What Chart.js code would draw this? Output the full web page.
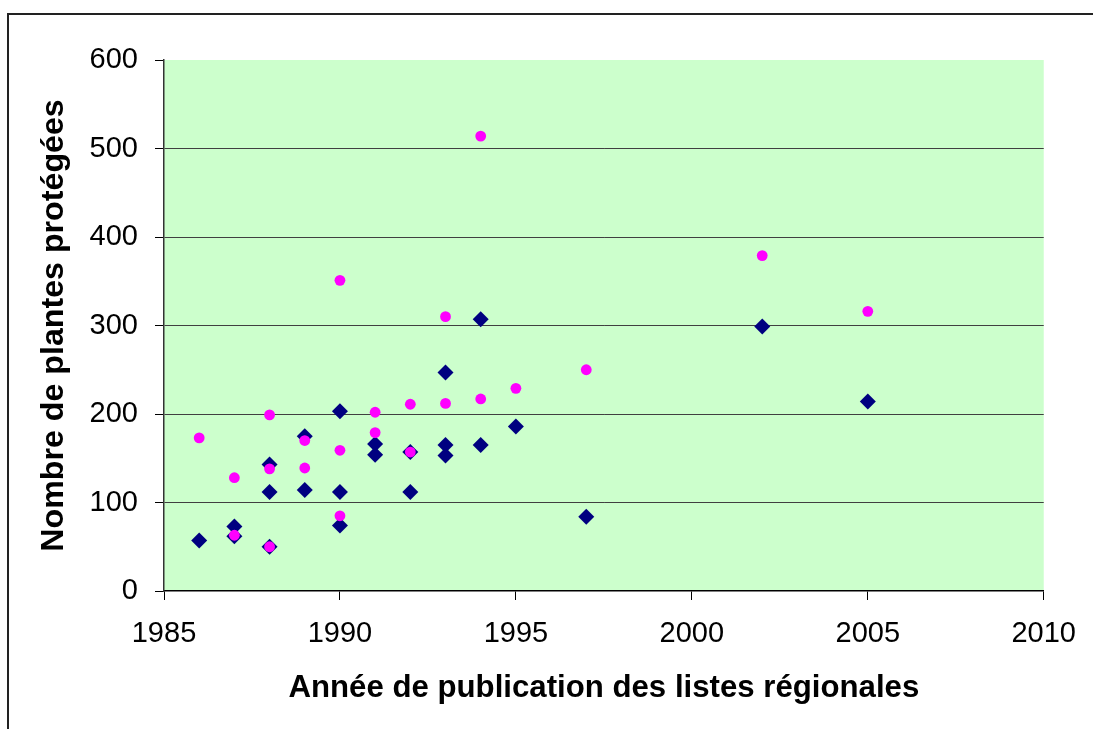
<!DOCTYPE html>
<html lang="fr">
<head>
<meta charset="utf-8">
<title>Plantes protégées par liste régionale</title>
<script src="https://cdn.jsdelivr.net/npm/chart.js@4/dist/chart.umd.min.js"></script>
<style>
  html, body { margin: 0; padding: 0; background: #fff; overflow: hidden; }
  #wrap { position: relative; width: 1093px; height: 729px; }
  #frame {
    position: absolute; left: 7px; top: 13px; width: 1200px; height: 800px;
    border-left: 2px solid #222; border-top: 2px solid #222; pointer-events: none;
  }
</style>
</head>
<body>
<div id="wrap">
  <canvas id="scatterChart" width="1093" height="729"></canvas>
  <div id="frame"></div>
</div>
<script>
// navy diamonds
const yearsA = [1986, 1987, 1987, 1988, 1988, 1988, 1989, 1989, 1990, 1990, 1990, 1991,
  1991, 1992, 1992, 1993, 1993, 1993, 1994, 1994, 1995, 1997, 2002, 2005];
const valuesA = [57, 73, 62, 143, 112, 50, 175, 114, 203, 112, 74, 166,
  154, 157, 112, 247, 165, 153, 307, 165, 186, 84, 299, 214];

// pink dots
const yearsB = [1986, 1987, 1987, 1988, 1988, 1988, 1989, 1989, 1990, 1990, 1990, 1991,
  1991, 1992, 1992, 1993, 1993, 1994, 1994, 1995, 1997, 2002, 2005];
const valuesB = [173, 128, 63, 199, 138, 50, 170, 139, 351, 159, 85, 202,
  179, 211, 157, 310, 212, 514, 217, 229, 250, 379, 316];

const xTitle = "Année de publication des listes régionales";
const yTitle = "Nombre de plantes protégées";

function toPoints(xs, ys) {
  return xs.map((x, i) => ({ x, y: ys[i] }));
}

const plotBackground = {
  id: "plotBackground",
  beforeDraw(chart) {
    const { ctx, chartArea: a } = chart;
    ctx.save();
    ctx.fillStyle = "#ccffcc";
    ctx.fillRect(a.left, a.top, a.right - a.left, a.bottom - a.top);
    ctx.restore();
  },
};

Chart.defaults.font.family = "Arial, 'Liberation Sans', Helvetica, sans-serif";
Chart.defaults.color = "#000";

new Chart(document.querySelector("#scatterChart"), {
  type: "scatter",
  data: {
    datasets: [
      {
        label: "B",
        data: toPoints(yearsB, valuesB),
        pointStyle: "circle",
        pointRadius: 5.4,
        pointHoverRadius: 5.4,
        pointBorderWidth: 0,
        backgroundColor: "#ff00ff",
        borderColor: "#ff00ff",
      },
      {
        label: "A",
        data: toPoints(yearsA, valuesA),
        pointStyle: "rectRot",
        pointRadius: 8,
        pointHoverRadius: 8,
        pointBorderWidth: 0,
        backgroundColor: "#000080",
        borderColor: "#000080",
      },
    ],
  },
  options: {
    responsive: false,
    animation: false,
    events: [],
    layout: { padding: { left: 0, right: 44, top: 60, bottom: 0 } },
    plugins: { legend: { display: false }, tooltip: { enabled: false } },
    scales: {
      x: {
        type: "linear",
        min: 1985,
        max: 2010,
        afterFit: (scale) => { scale.height = 138; },
        ticks: {
          stepSize: 5,
          padding: 17,
          font: { size: 29 },
          color: "#000",
          maxRotation: 0,
          callback: (v) => String(v),
        },
        grid: { drawOnChartArea: false, tickLength: 9, tickColor: "#000", tickWidth: 1 },
        border: { display: true, color: "#000", width: 1.5 },
        title: {
          display: true,
          text: xTitle,
          font: { size: 31.2, weight: "bold" },
          color: "#000",
          padding: { top: 0, bottom: 22 },
        },
      },
      y: {
        min: 0,
        max: 600,
        afterFit: (scale) => { scale.width = 164; },
        ticks: {
          stepSize: 100,
          padding: 17,
          font: { size: 29 },
          color: "#000",
          callback: (v) => String(v),
        },
        grid: {
          color: (ctx) => (ctx.tick && (ctx.tick.value === 600 || ctx.tick.value === 0) ? "rgba(0,0,0,0)" : "#404040"),
          lineWidth: 1,
          tickLength: 9,
          tickColor: "#000",
          tickWidth: 1,
        },
        border: { display: true, color: "#333", width: 1.5 },
        title: {
          display: true,
          text: yTitle,
          font: { size: 32.2, weight: "bold" },
          color: "#000",
          padding: { top: 35, bottom: 0 },
        },
      },
    },
  },
  plugins: [plotBackground],
});
</script>
</body>
</html>
